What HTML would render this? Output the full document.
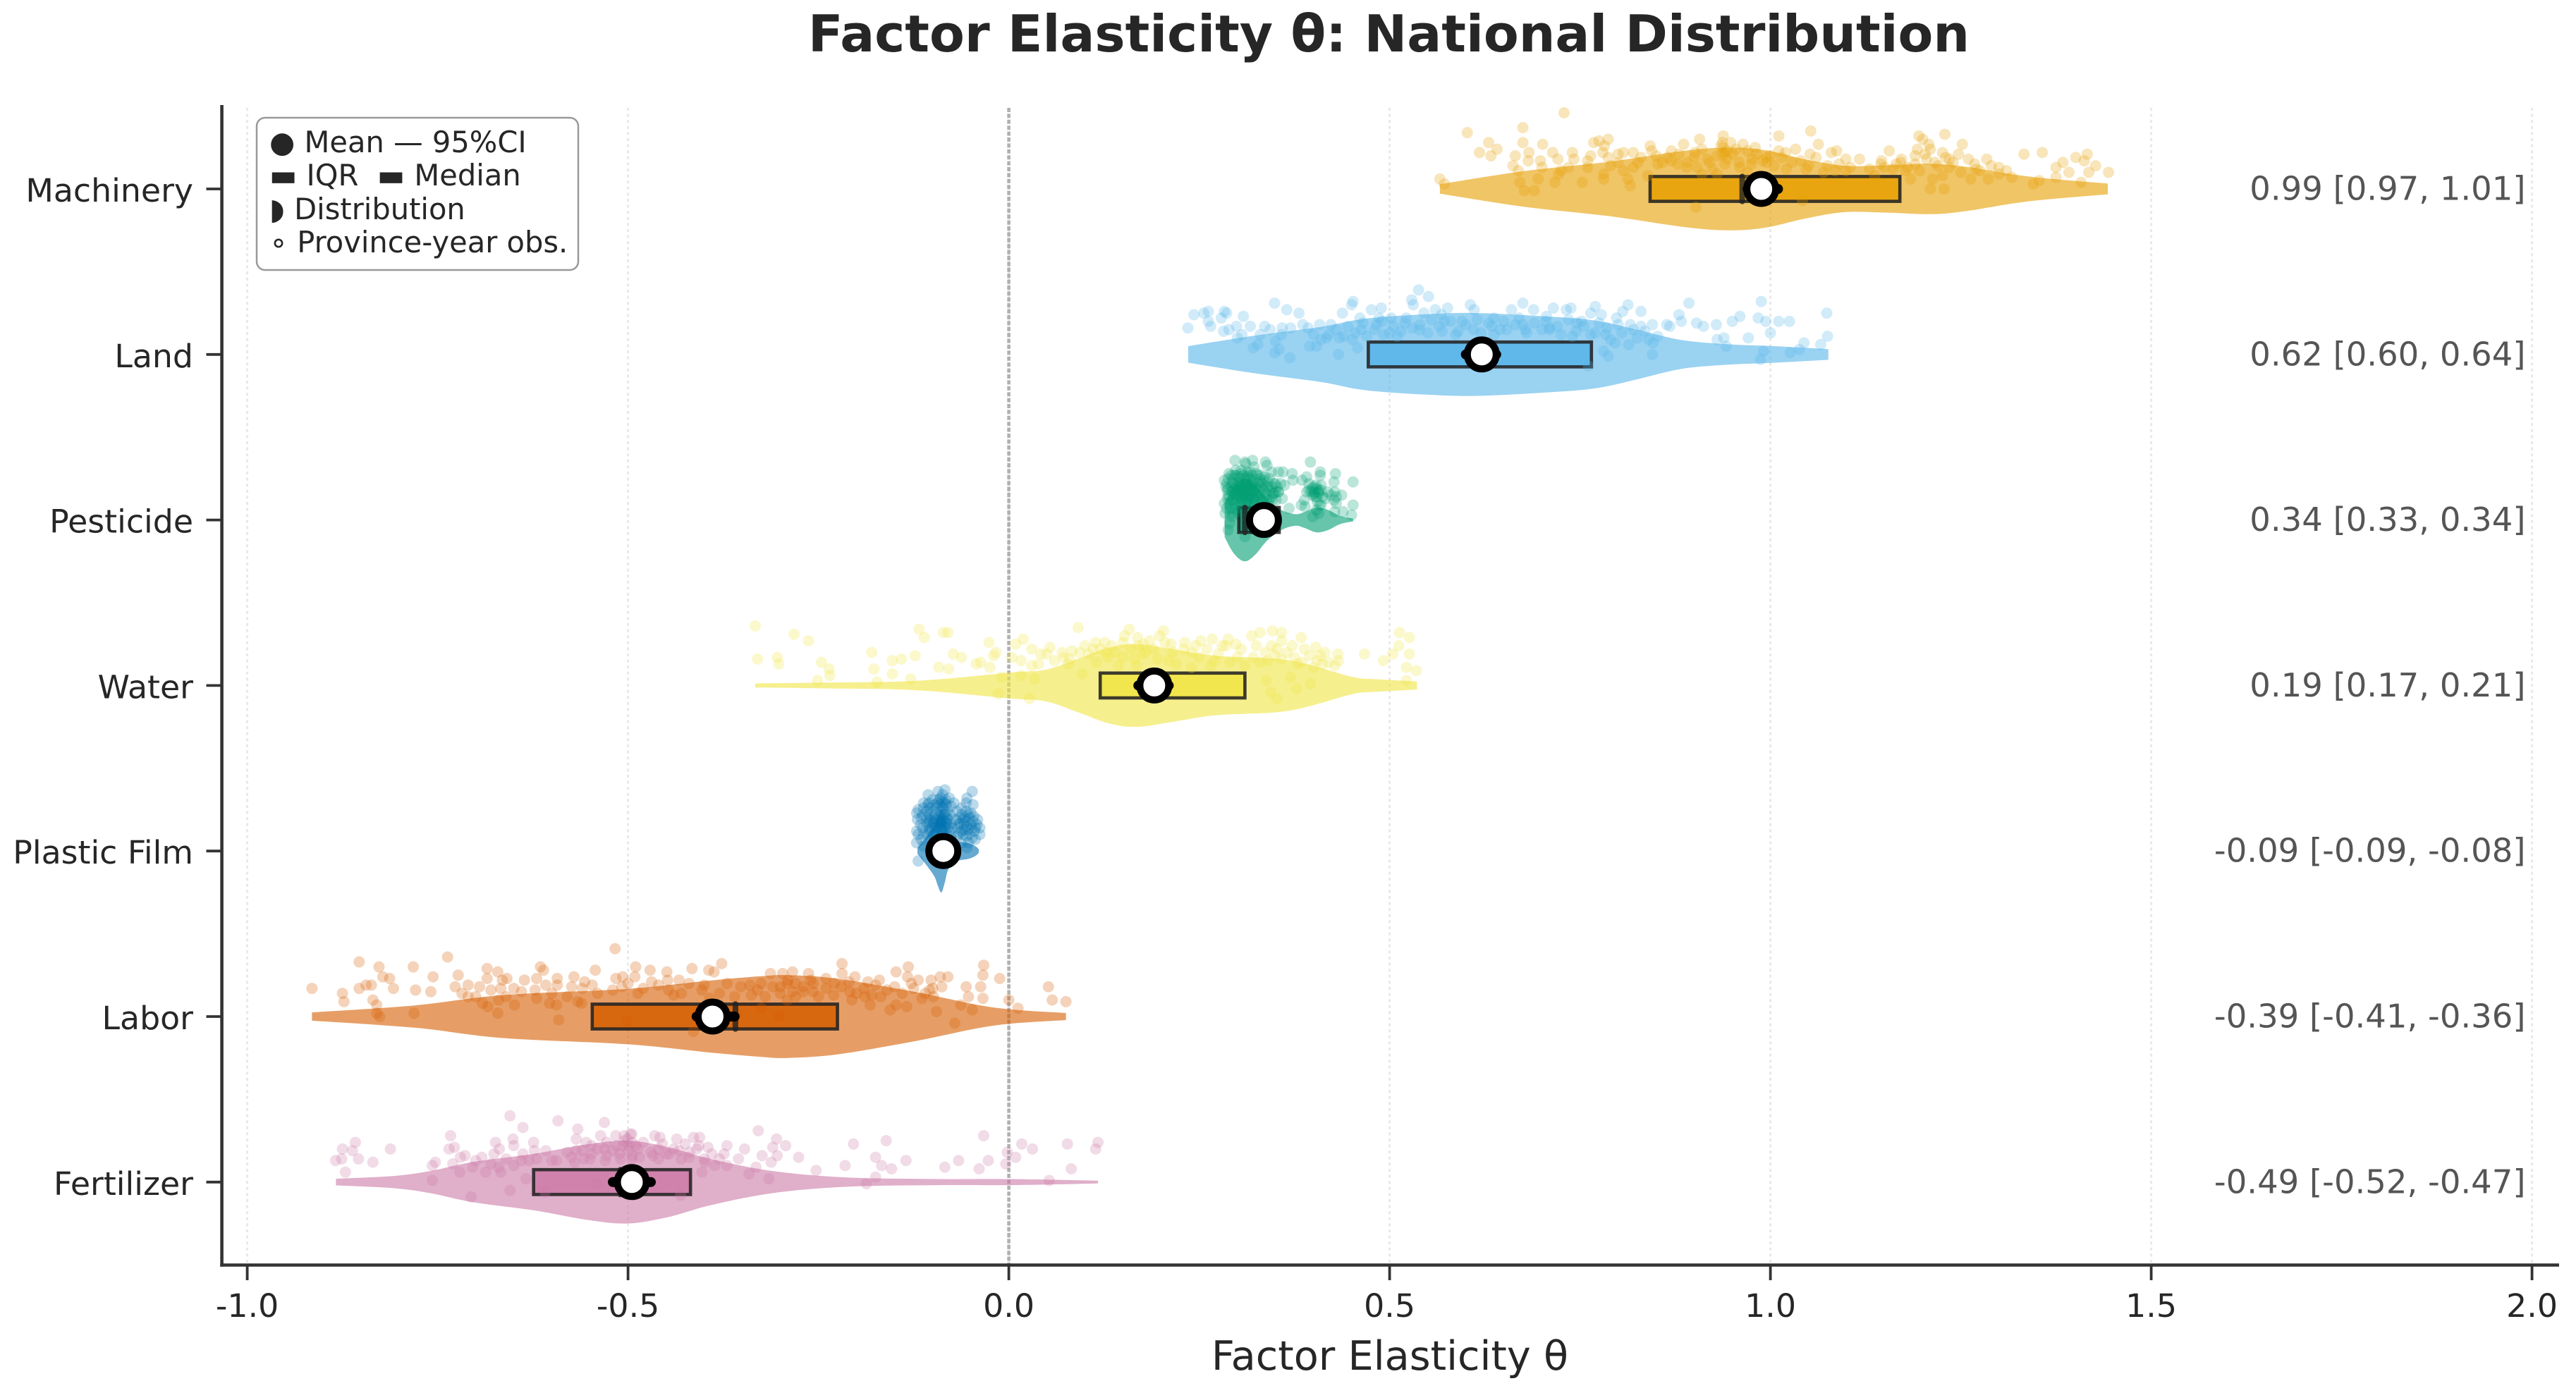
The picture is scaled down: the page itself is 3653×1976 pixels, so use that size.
<!DOCTYPE html>
<html lang="en">
<head>
<meta charset="utf-8">
<title>Factor Elasticity θ: National Distribution</title>
<style>
html,body{margin:0;padding:0;background:#fff;}
svg{display:block;}
text{font-family:"DejaVu Sans","Liberation Sans",sans-serif;}
</style>
</head>
<body>
<svg id="chart" xmlns="http://www.w3.org/2000/svg" width="3653" height="1976" viewBox="0 0 3653 1976">
  <rect x="0" y="0" width="3653" height="1976" fill="#ffffff"/>
  <text x="1969.5" y="73" text-anchor="middle" font-size="72.6" font-weight="700" fill="#262626">Factor Elasticity θ: National Distribution</text>
  <text x="1971" y="1943" text-anchor="middle" font-size="57.3" fill="#262626">Factor Elasticity θ</text>
  <g id="grid"></g>
  <g id="marks"></g>
  <g id="axes"></g>
  <g id="annotations"></g>
  <g>
    <rect x="364" y="167" width="456" height="216" rx="12" ry="12" fill="#ffffff" stroke="#999999" stroke-width="2.5"/>
    <text x="382" y="216" font-size="41.6" fill="#262626">● Mean — 95%CI</text>
    <text x="382" y="263" font-size="41.6" fill="#262626" xml:space="preserve">▬ IQR  ▬ Median</text>
    <text x="382" y="311" font-size="41.6" fill="#262626">◗ Distribution</text>
    <text x="382" y="358" font-size="41.6" fill="#262626">∘ Province-year obs.</text>
  </g>
</svg>
<script>
const categories = ["Machinery","Land","Pesticide","Water","Plastic Film","Labor","Fertilizer"];
const xTickValues = [-1.0,-0.5,0.0,0.5,1.0,1.5,2.0];
const xTickLabels = ["-1.0","-0.5","0.0","0.5","1.0","1.5","2.0"];
const meanValues = [0.988,0.621,0.335,0.191,-0.086,-0.389,-0.495];
const ciLow = [0.97,0.60,0.33,0.17,-0.09,-0.41,-0.52];
const ciHigh = [1.01,0.64,0.34,0.21,-0.08,-0.36,-0.47];
const q1Values = [0.842,0.472,0.302,0.12,-0.097,-0.547,-0.624];
const q3Values = [1.170,0.765,0.355,0.31,-0.075,-0.225,-0.418];
const medianValues = [0.963,0.62,0.31,0.19,-0.087,-0.359,-0.51];
const annotationLabels = ["0.99 [0.97, 1.01]","0.62 [0.60, 0.64]","0.34 [0.33, 0.34]","0.19 [0.17, 0.21]","-0.09 [-0.09, -0.08]","-0.39 [-0.41, -0.36]","-0.49 [-0.52, -0.47]"];
const palette = ["#E69F00","#56B4E9","#009E73","#F0E442","#0072B2","#D55E00","#CC79A7"];

const machineryGrid = [0.566,0.676,0.787,0.891,0.949,0.995,1.047,1.098,1.150,1.209,1.255,1.339,1.443];
const machineryDensity = [0.114,0.43,0.655,0.93,1.0,0.93,0.71,0.56,0.57,0.61,0.54,0.30,0.13];
const landGrid = [0.2356,0.321,0.41,0.469,0.557,0.616,0.705,0.770,0.823,0.882,0.941,1.0,1.076];
const landDensity = [0.2,0.45,0.667,0.866,0.98,1.0,0.92,0.82,0.61,0.353,0.25,0.205,0.13];
const pesticideGrid = [0.2834,0.2957,0.3096,0.3235,0.339,0.3575,0.376,0.388,0.404,0.419,0.435,0.452];
const pesticideDensity = [0.416,0.815,1.0,0.84,0.5,0.245,0.14,0.19,0.30,0.245,0.10,0.034];
const waterGrid = [-0.333,-0.241,-0.121,0,0.048,0.090,0.132,0.168,0.21,0.271,0.349,0.391,0.451,0.482,0.536];
const waterDensity = [0.05,0.07,0.114,0.31,0.38,0.64,0.92,1.0,0.895,0.72,0.65,0.52,0.21,0.154,0.097];
const filmGrid = [-0.12,-0.1086,-0.0978,-0.093,-0.0885,-0.0839,-0.0793,-0.0684,-0.0533,-0.044,-0.0394];
const filmDensity = [0.07,0.33,0.615,0.85,1.0,0.75,0.44,0.25,0.19,0.12,0.045];
const laborGrid = [-0.915,-0.78,-0.664,-0.501,-0.392,-0.325,-0.29,-0.223,-0.121,-0.019,0.075];
const laborDensity = [0.10,0.27,0.52,0.67,0.87,0.975,1.0,0.91,0.587,0.217,0.085];
const fertilizerGrid = [-0.8835,-0.806,-0.759,-0.704,-0.623,-0.555,-0.5,-0.446,-0.392,-0.311,-0.215,-0.093,-0.0015,0.117];
const fertilizerDensity = [0.08,0.15,0.27,0.484,0.684,0.91,1.0,0.84,0.56,0.27,0.114,0.074,0.074,0.034];

/* observations: [theta, jitter in category units above the centre line] */
const machineryObs = [[.729,.46],[.675,.37],[.602,.34],[.630,.28],[.675,.28],[.701,.27],[.618,.22],[.641,.24],[.633,.20],[.665,.20],[.683,.22],[.682,.17],[.698,.17],[.714,.22],[.721,.18],[.662,.14],[.669,.11],[.742,.18],[.735,.13],[.768,.28],[.775,.29],[.787,.30],[.782,.26],[.764,.20],[.787,.19],[.807,.22],[.820,.22],[.842,.26],[.844,.23],[.870,.23],[.886,.27],[.907,.30],[.938,.32],[.948,.28],[.964,.27],[.938,.25],[.901,.22],[1.011,.32],[1.053,.35],[1.063,.27],[1.033,.24],[1.011,.23],[1.052,.21],[1.080,.22],[1.087,.23],[1.099,.18],[1.117,.18],[1.146,.17],[1.156,.23],[1.172,.18],[1.195,.32],[1.200,.30],[1.229,.33],[1.252,.27],[1.208,.27],[1.193,.24],[1.203,.21],[1.226,.22],[1.247,.21],[1.235,.18],[1.284,.18],[1.268,.15],[1.300,.13],[1.333,.21],[1.357,.22],[1.401,.19],[1.416,.21],[1.412,.17],[1.427,.14],[1.384,.16],[1.375,.13],[1.392,.10],[1.418,.10],[1.444,.10],[1.375,.07],[1.408,.04],[1.353,.05],[1.345,.03],[1.317,.07],[1.300,.09],[1.286,.06],[1.263,.06],[1.228,0],[1.210,0],[1.213,.06],[1.226,.08],[1.184,.06],[1.177,.11],[1.190,.15],[1.161,.12],[1.137,.08],[1.099,.11],[1.085,.11],[1.070,.10],[1.047,.12],[1.021,.12],[.995,.16],[.976,.18],[.959,.16],[.937,.21],[.924,.12],[.904,.13],[.878,.15],[.858,.16],[.839,.08],[.816,.02],[.813,.06],[.807,.11],[.781,.09],[.781,.06],[.760,.13],[.753,.04],[.717,.04],[.695,.06],[.690,-.01],[.677,-.01],[.671,.04],[.722,.09],[.902,-.11],[1.042,-.07],[.566,.06],[.572,.03],[.943,.23],[.982,.21],[.995,.19],[1.028,.16],[.917,.18],[.891,.16],[.865,.19],[.852,.15],[.826,.16],[.800,.16],[1.216,.16],[1.235,.13],[1.145,.15],[1.171,.16],[1.275,.11],[1.196,.11],[.937,.28],[.940,.22],[.943,.18],[.85,.2],[.87,.17],[.88,.21],[.89,.13],[.90,.19],[.91,.24],[.92,.16],[.93,.2],[.935,.26],[.94,.15],[.95,.21],[.955,.24],[.96,.13],[.97,.23],[.975,.15],[.98,.25],[.99,.17],[1.0,.2],[1.005,.14],[1.015,.19],[1.02,.22],[1.04,.17],[1.05,.14],[1.06,.19],[1.075,.14],[1.09,.15],[1.105,.13],[1.13,.12],[1.15,.13],[1.165,.15],[1.18,.13],[1.19,.2],[1.205,.18],[1.21,.24],[1.22,.14],[1.23,.19],[1.24,.16],[1.25,.1],[1.26,.18],[1.27,.12],[1.29,.14],[1.31,.11],[.7,.13],[.74,.22],[.76,.17],[.79,.14],[.8,.21],[.82,.13],[.83,.19],[.78,.22],[.725,.11],[.93,.09],[.97,.1],[.91,.09]];
const landObs = [[.538,.39],[.551,.35],[.529,.33],[.531,.30],[.452,.32],[.450,.30],[.349,.31],[.365,.27],[.381,.25],[.243,.24],[.256,.25],[.262,.26],[.283,.26],[.286,.25],[.279,.22],[.308,.23],[.262,.20],[.265,.17],[.235,.16],[.282,.14],[.289,.15],[.299,.17],[.306,.12],[.317,.17],[.336,.17],[.343,.15],[.359,.16],[.358,.12],[.386,.18],[.393,.16],[.408,.18],[.423,.18],[.438,.25],[.476,.27],[.489,.28],[.486,.22],[.461,.22],[.463,.15],[.483,.18],[.502,.22],[.522,.22],[.545,.25],[.560,.27],[.576,.28],[.568,.24],[.572,.20],[.606,.30],[.611,.27],[.595,.20],[.637,.22],[.660,.27],[.675,.31],[.689,.27],[.715,.28],[.732,.27],[.738,.28],[.706,.23],[.675,.18],[.710,.16],[.654,.15],[.637,.12],[.610,.15],[.569,.14],[.770,.29],[.764,.25],[.778,.24],[.813,.30],[.806,.26],[.830,.26],[.798,.22],[.752,.20],[.746,.19],[.816,.18],[.830,.17],[.845,.18],[.864,.18],[.868,.17],[.883,.20],[.880,.24],[.893,.31],[.903,.19],[.912,.17],[.929,.18],[.950,.20],[.960,.23],[.984,.22],[.988,.32],[.994,.20],[1.011,.20],[1.025,.20],[1.074,.25],[1.075,.11],[1.066,.06],[1.044,.07],[1.038,.03],[1.026,.01],[1.000,.13],[.971,.10],[.939,.10],[.930,.09],[.942,.05],[.991,.02],[.987,-.03],[.845,0],[.852,.11],[.846,.07],[.787,-.01],[.781,.02],[.814,.06],[.796,.07],[.784,.12],[.764,.12],[.740,.11],[.710,.15],[.678,.15],[.321,.04],[.327,.06],[.349,.01],[.355,.03],[.369,-.02],[.395,.05],[.404,.05],[.417,.10],[.433,0],[.458,.04],[.434,.10],[.451,.09],[.492,.12],[.510,.11],[.539,.15],[.587,.12],[.634,.17],[.761,-.07],[.42,.12],[.43,.15],[.44,.11],[.445,.17],[.455,.13],[.465,.19],[.47,.11],[.48,.15],[.49,.2],[.5,.13],[.505,.17],[.515,.14],[.52,.19],[.53,.16],[.54,.18],[.55,.13],[.555,.21],[.565,.17],[.58,.2],[.59,.14],[.6,.18],[.615,.21],[.62,.13],[.63,.19],[.645,.15],[.65,.2],[.665,.18],[.67,.22],[.68,.13],[.69,.19],[.7,.15],[.705,.2],[.72,.17],[.725,.12],[.735,.21],[.745,.14],[.755,.17],[.77,.13],[.775,.19],[.785,.16],[.79,.09],[.8,.18],[.805,.13],[.82,.15],[.825,.1],[.835,.14],[.84,.09],[.37,.16],[.35,.08],[.33,.12],[.3,.1],[.4,.12],[.41,.09]];
const pesticideObs = [[.297,.36],[.310,.35],[.320,.36],[.337,.35],[.339,.33],[.311,.34],[.322,.32],[.298,.30],[.289,.28],[.283,.24],[.296,.27],[.308,.27],[.317,.29],[.327,.27],[.336,.26],[.345,.29],[.354,.29],[.360,.29],[.372,.28],[.373,.24],[.362,.21],[.348,.22],[.340,.20],[.354,.17],[.359,.13],[.368,.07],[.293,.23],[.302,.23],[.311,.23],[.320,.23],[.330,.23],[.288,.19],[.297,.19],[.306,.19],[.316,.19],[.325,.19],[.334,.19],[.290,.14],[.299,.15],[.308,.15],[.317,.15],[.327,.15],[.336,.14],[.345,.14],[.296,.12],[.305,.12],[.314,.12],[.323,.12],[.333,.12],[.342,.12],[.351,.12],[.283,.10],[.284,.04],[.294,.04],[.293,.02],[.290,-.02],[.288,-.06],[.310,-.10],[.302,.26],[.314,.26],[.305,.30],[.313,.29],[.293,.17],[.302,.17],[.311,.17],[.320,.17],[.303,.21],[.311,.21],[.319,.21],[.305,.14],[.313,.14],[.320,.13],[.310,.10],[.319,.10],[.296,.07],[.305,.07],[.354,.17],[.348,.16],[.396,.35],[.409,.29],[.429,.28],[.452,.23],[.427,.23],[.409,.27],[.391,.26],[.385,.24],[.394,.22],[.410,.21],[.401,.17],[.407,.16],[.402,.14],[.391,.17],[.419,.17],[.428,.17],[.437,.15],[.427,.12],[.430,.10],[.452,.09],[.439,.05],[.450,.03],[.428,.05],[.410,.09],[.407,.04],[.399,.02],[.389,.08],[.384,.09],[.404,.19],[.407,.18],[.401,.16],[.394,.18],[.416,.13],[.388,.12],[.292,.27],[.299,.27],[.305,.28],[.313,.27],[.319,.27],[.325,.28],[.331,.27],[.288,.25],[.295,.25],[.303,.25],[.31,.25],[.316,.25],[.322,.25],[.329,.25],[.335,.24],[.342,.25],[.286,.22],[.294,.22],[.3,.22],[.307,.22],[.314,.22],[.32,.22],[.327,.22],[.333,.22],[.34,.23],[.35,.22],[.357,.22],[.285,.2],[.292,.2],[.298,.2],[.305,.2],[.312,.2],[.318,.2],[.324,.2],[.331,.2],[.338,.2],[.345,.2],[.352,.2],[.287,.18],[.294,.18],[.3,.18],[.308,.18],[.314,.18],[.322,.18],[.328,.18],[.336,.17],[.343,.18],[.35,.17],[.288,.15],[.295,.16],[.302,.15],[.309,.16],[.316,.15],[.323,.16],[.33,.15],[.339,.16],[.347,.16],[.287,.13],[.293,.12],[.3,.13],[.307,.13],[.315,.12],[.322,.13],[.33,.13],[.338,.13],[.346,.12],[.289,.1],[.297,.1],[.304,.1],[.313,.09],[.322,.09],[.33,.09],[.34,.1],[.286,.07],[.292,.07],[.3,.05],[.398,.19],[.4,.2],[.403,.21],[.406,.17],[.399,.15],[.404,.14],[.41,.18],[.397,.17],[.405,.11],[.408,.09],[.404,.06],[.412,.14],[.423,.15],[.43,.14]];
const waterObs = [[-.333,.36],[-.282,.31],[-.263,.27],[-.330,.16],[-.304,.17],[-.302,.13],[-.246,.14],[-.236,.10],[-.235,.06],[-.251,.03],[-.180,.20],[-.177,.10],[-.173,.02],[-.153,.15],[-.141,.16],[-.153,.07],[-.123,.18],[-.129,.04],[-.118,.34],[-.111,.29],[-.086,.32],[-.080,.32],[-.092,.11],[-.079,.10],[-.073,.19],[-.062,.17],[-.043,.13],[-.037,.14],[-.025,.11],[-.026,.26],[-.017,.20],[-.020,.18],[-.009,.05],[-.014,-.05],[.004,.17],[.009,.25],[.019,.28],[.016,.15],[.030,.22],[.042,.19],[.054,.23],[.030,.12],[.039,.13],[.016,.06],[.034,.04],[.027,-.08],[.091,.35],[.072,.17],[.083,.21],[.093,.20],[.078,.13],[.096,.07],[.114,.26],[.126,.26],[.111,.22],[.128,.20],[.152,.30],[.158,.34],[.169,.29],[.198,.30],[.203,.33],[.177,.25],[.213,.25],[.231,.26],[.252,.27],[.267,.28],[.288,.28],[.298,.25],[.319,.30],[.330,.32],[.346,.33],[.358,.32],[.358,.27],[.384,.29],[.372,.24],[.388,.22],[.403,.23],[.352,.22],[.337,.20],[.280,.24],[.240,.20],[.270,.15],[.300,.17],[.321,.17],[.340,.15],[.358,.16],[.379,.13],[.400,.11],[.409,.18],[.412,.13],[.432,.19],[.433,.15],[.428,.12],[.467,.19],[.492,.15],[.504,.19],[.512,.24],[.513,.32],[.526,.29],[.526,.19],[.522,.11],[.535,.09],[.522,.03],[.396,.01],[.378,-.02],[.370,.05],[.338,.03],[.344,-.04],[.352,-.08],[.180,.20],[.150,.17],[.210,.15],[.240,.11],[.168,.12],[.144,.12],[.1,.24],[.105,.19],[.115,.14],[.12,.22],[.13,.17],[.135,.24],[.14,.2],[.15,.26],[.16,.22],[.165,.16],[.17,.24],[.175,.19],[.185,.27],[.19,.22],[.195,.16],[.205,.26],[.215,.2],[.22,.13],[.23,.22],[.245,.24],[.25,.17],[.26,.22],[.265,.12],[.275,.19],[.285,.24],[.29,.14],[.305,.22],[.31,.12],[.325,.24],[.33,.14],[.345,.24],[.35,.18],[.365,.2],[.375,.17],[.385,.14],[.395,.18],[.405,.15],[.415,.2],[.42,.14],[.06,.15],[.07,.2],[.08,.16],[.05,.19]];
const filmObs = [[-.084,.37],[-.093,.36],[-.106,.34],[-.048,.36],[-.055,.32],[-.078,.32],[-.087,.34],[-.072,.29],[-.112,.29],[-.119,.25],[-.121,.23],[-.120,.19],[-.121,.12],[-.119,.10],[-.121,.05],[-.119,-.06],[-.047,.28],[-.056,.29],[-.062,.26],[-.041,.19],[-.038,.14],[-.038,.10],[-.044,.07],[-.053,.05],[-.055,.02],[-.062,.05],[-.105,.29],[-.093,.29],[-.084,.29],[-.108,.24],[-.099,.24],[-.090,.24],[-.081,.24],[-.108,.20],[-.099,.20],[-.090,.20],[-.081,.20],[-.108,.16],[-.099,.16],[-.090,.16],[-.081,.16],[-.105,.12],[-.096,.12],[-.087,.12],[-.078,.12],[-.090,.32],[-.087,.30],[-.087,.27],[-.085,.22],[-.087,.18],[-.093,.13],[-.115,.07],[-.112,.03],[-.113,.14],[-.113,.22],[-.112,.26],[-.068,.24],[-.062,.22],[-.056,.24],[-.050,.23],[-.047,.18],[-.056,.18],[-.064,.17],[-.070,.19],[-.053,.13],[-.045,.12],[-.062,.12],[-.068,.09],[-.056,.09],[-.048,.08],[-.059,.16],[-.050,.16],[-.042,.16],[-.067,.14],[-.104,.26],[-.095,.26],[-.086,.26],[-.102,.18],[-.093,.18],[-.084,.18],[-.102,.14],[-.093,.15],[-.084,.14],[-.106,.28],[-.098,.28],[-.09,.28],[-.082,.28],[-.076,.27],[-.105,.22],[-.097,.22],[-.09,.22],[-.083,.22],[-.077,.22],[-.104,.19],[-.096,.19],[-.088,.19],[-.079,.19],[-.106,.17],[-.098,.17],[-.09,.17],[-.082,.17],[-.076,.16],[-.104,.13],[-.096,.14],[-.088,.13],[-.08,.14],[-.074,.14],[-.107,.1],[-.099,.1],[-.09,.09],[-.082,.1],[-.076,.09],[-.102,.07],[-.093,.06],[-.084,.07],[-.075,.07],[-.1,.31],[-.092,.31],[-.083,.31],[-.115,.2],[-.116,.16],[-.112,.1],[-.065,.2],[-.058,.2],[-.052,.2],[-.046,.21],[-.066,.16],[-.055,.15],[-.049,.14],[-.044,.14],[-.06,.1],[-.052,.1],[-.065,.11],[-.06,.19],[-.053,.22],[-.058,.13]];
const laborObs = [[-.915,.17],[-.875,.14],[-.873,.09],[-.853,.33],[-.853,.17],[-.844,.19],[-.837,.19],[-.827,.30],[-.822,.24],[-.813,.23],[-.808,.17],[-.835,.10],[-.830,.07],[-.830,.02],[-.826,0],[-.782,.30],[-.781,.02],[-.779,.16],[-.759,.15],[-.756,.24],[-.737,.36],[-.727,.18],[-.723,.25],[-.710,.19],[-.718,.14],[-.710,.12],[-.695,.18],[-.685,.29],[-.685,.23],[-.671,.27],[-.659,.23],[-.665,.22],[-.667,.17],[-.650,.17],[-.691,.08],[-.684,.06],[-.670,.10],[-.671,.02],[-.649,.07],[-.636,.22],[-.620,.23],[-.622,.16],[-.608,.19],[-.615,.30],[-.611,.28],[-.593,.23],[-.593,.19],[-.574,.18],[-.571,.24],[-.557,.21],[-.547,.19],[-.543,.28],[-.603,.08],[-.594,.07],[-.566,.09],[-.561,.08],[-.591,-.02],[-.516,.23],[-.507,.24],[-.490,.30],[-.491,.24],[-.471,.28],[-.469,.21],[-.449,.27],[-.448,.22],[-.433,.22],[-.416,.29],[-.394,.28],[-.387,.27],[-.377,.32],[-.517,.41],[-.501,-.03],[-.508,.18],[-.487,.14],[-.447,.16],[-.430,.14],[-.403,.16],[-.393,.11],[-.352,.18],[-.338,.13],[-.313,.26],[-.297,.26],[-.284,.27],[-.263,.26],[-.240,.23],[-.219,.32],[-.219,.26],[-.202,.24],[-.185,.21],[-.170,.22],[-.325,.20],[-.291,.20],[-.257,.20],[-.284,.15],[-.257,.15],[-.229,.20],[-.209,.15],[-.189,.12],[-.168,.12],[-.206,.10],[-.182,.07],[-.156,.04],[-.148,.27],[-.132,.30],[-.133,.24],[-.128,.20],[-.119,.22],[-.148,.07],[-.134,.06],[-.114,.11],[-.102,.22],[-.090,.24],[-.080,.24],[-.088,.18],[-.104,.16],[-.099,.12],[-.095,.03],[-.071,-.04],[-.063,.07],[-.056,.18],[-.053,.12],[-.048,.04],[-.037,.18],[-.034,.11],[-.034,.25],[-.033,.31],[-.012,.23],[0,.10],[.012,.05],[.052,.18],[.057,.10],[.075,.09],[-.301,0],[-.325,.05],[-.291,.10],[-.358,.02],[-.414,-.09],[-.7,.12],[-.68,.16],[-.66,.12],[-.64,.15],[-.62,.11],[-.6,.14],[-.58,.12],[-.56,.17],[-.54,.14],[-.52,.16],[-.5,.2],[-.48,.17],[-.46,.19],[-.44,.13],[-.42,.2],[-.4,.19],[-.38,.14],[-.37,.2],[-.36,.12],[-.34,.19],[-.33,.16],[-.32,.12],[-.31,.18],[-.3,.14],[-.29,.22],[-.28,.12],[-.27,.18],[-.26,.22],[-.25,.12],[-.24,.17],[-.23,.13],[-.22,.18],[-.21,.21],[-.2,.14],[-.19,.17],[-.18,.13],[-.175,.19],[-.16,.16],[-.15,.18],[-.14,.14],[-.125,.17],[-.11,.14],[-.1,.17],[-.28,.2],[-.3,.18],[-.27,.15]];
const fertilizerObs = [[-.884,.13],[-.876,.14],[-.875,.20],[-.871,.06],[-.862,.19],[-.858,.24],[-.854,.14],[-.835,.12],[-.812,.20],[-.757,.01],[-.753,.12],[-.757,.10],[-.735,.20],[-.733,.28],[-.728,.21],[-.730,.11],[-.721,.06],[-.714,.16],[-.706,-.09],[-.704,.09],[-.692,.15],[-.687,.06],[-.674,.24],[-.676,.17],[-.669,.20],[-.670,.09],[-.667,.06],[-.655,.40],[-.651,.26],[-.650,.22],[-.655,-.05],[-.638,.33],[-.638,.17],[-.634,.02],[-.624,.24],[-.623,.19],[-.630,.13],[-.608,.19],[-.609,-.06],[-.592,.37],[-.594,.13],[-.574,.15],[-.568,.26],[-.566,.32],[-.555,.24],[-.558,.14],[-.536,.28],[-.531,.36],[-.531,.20],[-.541,-.01],[-.516,.28],[-.497,.29],[-.495,.24],[-.511,.17],[-.494,.16],[-.465,.28],[-.458,.27],[-.436,.26],[-.467,.16],[-.446,.17],[-.414,.27],[-.406,.27],[-.407,.22],[-.431,-.08],[-.419,.18],[-.395,.21],[-.399,.12],[-.386,.10],[-.403,.06],[-.370,.22],[-.374,.17],[-.355,.14],[-.347,.20],[-.341,.05],[-.329,.31],[-.332,.09],[-.324,.16],[-.315,.02],[-.310,.21],[-.305,.26],[-.304,.16],[-.293,.22],[-.312,.12],[-.276,.15],[-.253,.07],[-.215,.10],[-.204,.23],[-.187,-.01],[-.175,.03],[-.175,.15],[-.167,.10],[-.161,.25],[-.154,.08],[-.135,.13],[-.084,.09],[-.066,.13],[-.033,.28],[-.039,.08],[-.027,.13],[-.004,.11],[-.002,.18],[.009,.15],[.017,.23],[.031,.20],[.053,.01],[.077,.23],[.082,.08],[.114,.20],[.117,.24],[-.568,.19],[-.548,.17],[-.528,.16],[-.507,.22],[-.487,.20],[-.460,.20],[-.433,.19],[-.548,.22],[-.501,.26],[-.528,.24],[-.72,.15],[-.7,.13],[-.68,.11],[-.66,.14],[-.65,.1],[-.64,.13],[-.62,.14],[-.6,.13],[-.58,.18],[-.57,.12],[-.56,.19],[-.55,.14],[-.54,.2],[-.53,.13],[-.52,.19],[-.515,.22],[-.51,.14],[-.505,.25],[-.5,.19],[-.495,.14],[-.49,.22],[-.485,.15],[-.48,.24],[-.47,.18],[-.46,.14],[-.455,.23],[-.45,.17],[-.44,.2],[-.43,.14],[-.425,.23],[-.42,.15],[-.41,.2],[-.4,.14],[-.39,.17],[-.38,.14],[-.37,.1],[-.505,.28],[-.495,.29],[-.5,.22]];

const gridSets = [machineryGrid,landGrid,pesticideGrid,waterGrid,filmGrid,laborGrid,fertilizerGrid];
const densitySets = [machineryDensity,landDensity,pesticideDensity,waterDensity,filmDensity,laborDensity,fertilizerDensity];
const obsSets = [machineryObs,landObs,pesticideObs,waterObs,filmObs,laborObs,fertilizerObs];

const SVGNS = "http://www.w3.org/2000/svg";
const AXIS = {left:314.6,right:3629,top:149,bottom:1794.5};
const VIOLIN_PEAK = 0.25;
const BOX_HALF = 0.075;
function xScale(v){return 1430.6+1080*v;}
function yScale(u){return 268+234.8*u;}
function make(tag,attrs,parent,text){
  const el=document.createElementNS(SVGNS,tag);
  for(const k in attrs){el.setAttribute(k,attrs[k]);}
  if(text!==undefined){el.textContent=text;}
  parent.appendChild(el);
  return el;
}
function smooth(pts){
  let d="";
  for(let i=0;i<pts.length-1;i++){
    const p0=pts[Math.max(i-1,0)],p1=pts[i],p2=pts[i+1],p3=pts[Math.min(i+2,pts.length-1)];
    const c1x=p1[0]+(p2[0]-p0[0])/6,c1y=p1[1]+(p2[1]-p0[1])/6;
    const c2x=p2[0]-(p3[0]-p1[0])/6,c2y=p2[1]-(p3[1]-p1[1])/6;
    d+="C"+c1x.toFixed(1)+" "+c1y.toFixed(1)+" "+c2x.toFixed(1)+" "+c2y.toFixed(1)+" "+p2[0].toFixed(1)+" "+p2[1].toFixed(1);
  }
  return d;
}

const gridG=document.getElementById("grid");
const marksG=document.getElementById("marks");
const axesG=document.getElementById("axes");
const annG=document.getElementById("annotations");

xTickValues.forEach(function(v){
  const line=make("line",{x1:xScale(v),x2:xScale(v),y1:AXIS.top+4,y2:AXIS.bottom,stroke:"#e8e8e8","stroke-width":3,"stroke-dasharray":"4 4.6"},gridG);
  
  
});
const zeroLine=make("line",{x1:xScale(0),x2:xScale(0),y1:AXIS.top+4,y2:AXIS.bottom,stroke:"#b0b0b0","stroke-width":4.6,"stroke-dasharray":"6 2.4"},gridG);



categories.forEach(function(cat,i){
  const cy=yScale(i);
  const color=palette[i];
  const g=make("g",{},marksG);
  
  

  const top=gridSets[i].map(function(t,k){return [xScale(t),cy-234.8*VIOLIN_PEAK*densitySets[i][k]];});
  const bottom=gridSets[i].map(function(t,k){return [xScale(t),cy+234.8*VIOLIN_PEAK*densitySets[i][k]];}).reverse();
  const pathD="M"+top[0][0].toFixed(1)+" "+top[0][1].toFixed(1)+smooth(top)+"L"+bottom[0][0].toFixed(1)+" "+bottom[0][1].toFixed(1)+smooth(bottom)+"Z";
  const violin=make("path",{d:pathD,fill:color,"fill-opacity":0.6},g);
  
  

  const bh=234.8*BOX_HALF;
  const box=make("rect",{x:xScale(q1Values[i]),y:cy-bh,width:xScale(q3Values[i])-xScale(q1Values[i]),height:2*bh,fill:color,"fill-opacity":0.85,stroke:"#222222","stroke-opacity":0.88,"stroke-width":4.6},g);
  
  

  obsSets[i].forEach(function(p){
    const pt=make("circle",{cx:xScale(p[0]),cy:cy-234.8*p[1],r:8,fill:color,"fill-opacity":0.27},g);
    
    
  });

  const med=make("line",{x1:xScale(medianValues[i]),x2:xScale(medianValues[i]),y1:cy-bh,y2:cy+bh,stroke:"#222222","stroke-opacity":0.8,"stroke-width":8,"stroke-linecap":"round"},g);
  
  

  const ci=make("line",{x1:xScale(ciLow[i]),x2:xScale(ciHigh[i]),y1:cy,y2:cy,stroke:"#000000","stroke-width":14,"stroke-linecap":"round"},g);
  
  

  const mean=make("circle",{cx:xScale(meanValues[i]),cy:cy,r:20.5,fill:"#ffffff",stroke:"#000000","stroke-width":10},g);
  
  

  const tick=make("line",{x1:292.5,x2:AXIS.left,y1:cy,y2:cy,stroke:"#333333","stroke-width":3.8},axesG);
  
  

  const label=make("text",{x:274,y:cy+18,"text-anchor":"end","font-size":45.8,fill:"#262626"},axesG,cat);
  
  

  const ann=make("text",{x:3581.5,y:cy+15.5,"text-anchor":"end","font-size":46.5,fill:"#555555"},annG,annotationLabels[i]);
  
  
});

const ySpine=make("line",{x1:AXIS.left,x2:AXIS.left,y1:AXIS.top,y2:AXIS.bottom+2.2,stroke:"#333333","stroke-width":4.6},axesG);


const xSpine=make("line",{x1:AXIS.left-2.3,x2:AXIS.right,y1:AXIS.bottom,y2:AXIS.bottom,stroke:"#333333","stroke-width":4.6},axesG);



xTickValues.forEach(function(v,i){
  const t=make("line",{x1:xScale(v),x2:xScale(v),y1:AXIS.bottom,y2:1816,stroke:"#333333","stroke-width":3.8},axesG);
  
  
  const lab=make("text",{x:xScale(v),y:1868,"text-anchor":"middle","font-size":45.8,fill:"#262626"},axesG,xTickLabels[i]);
  
  
});
</script>
</body>
</html>
